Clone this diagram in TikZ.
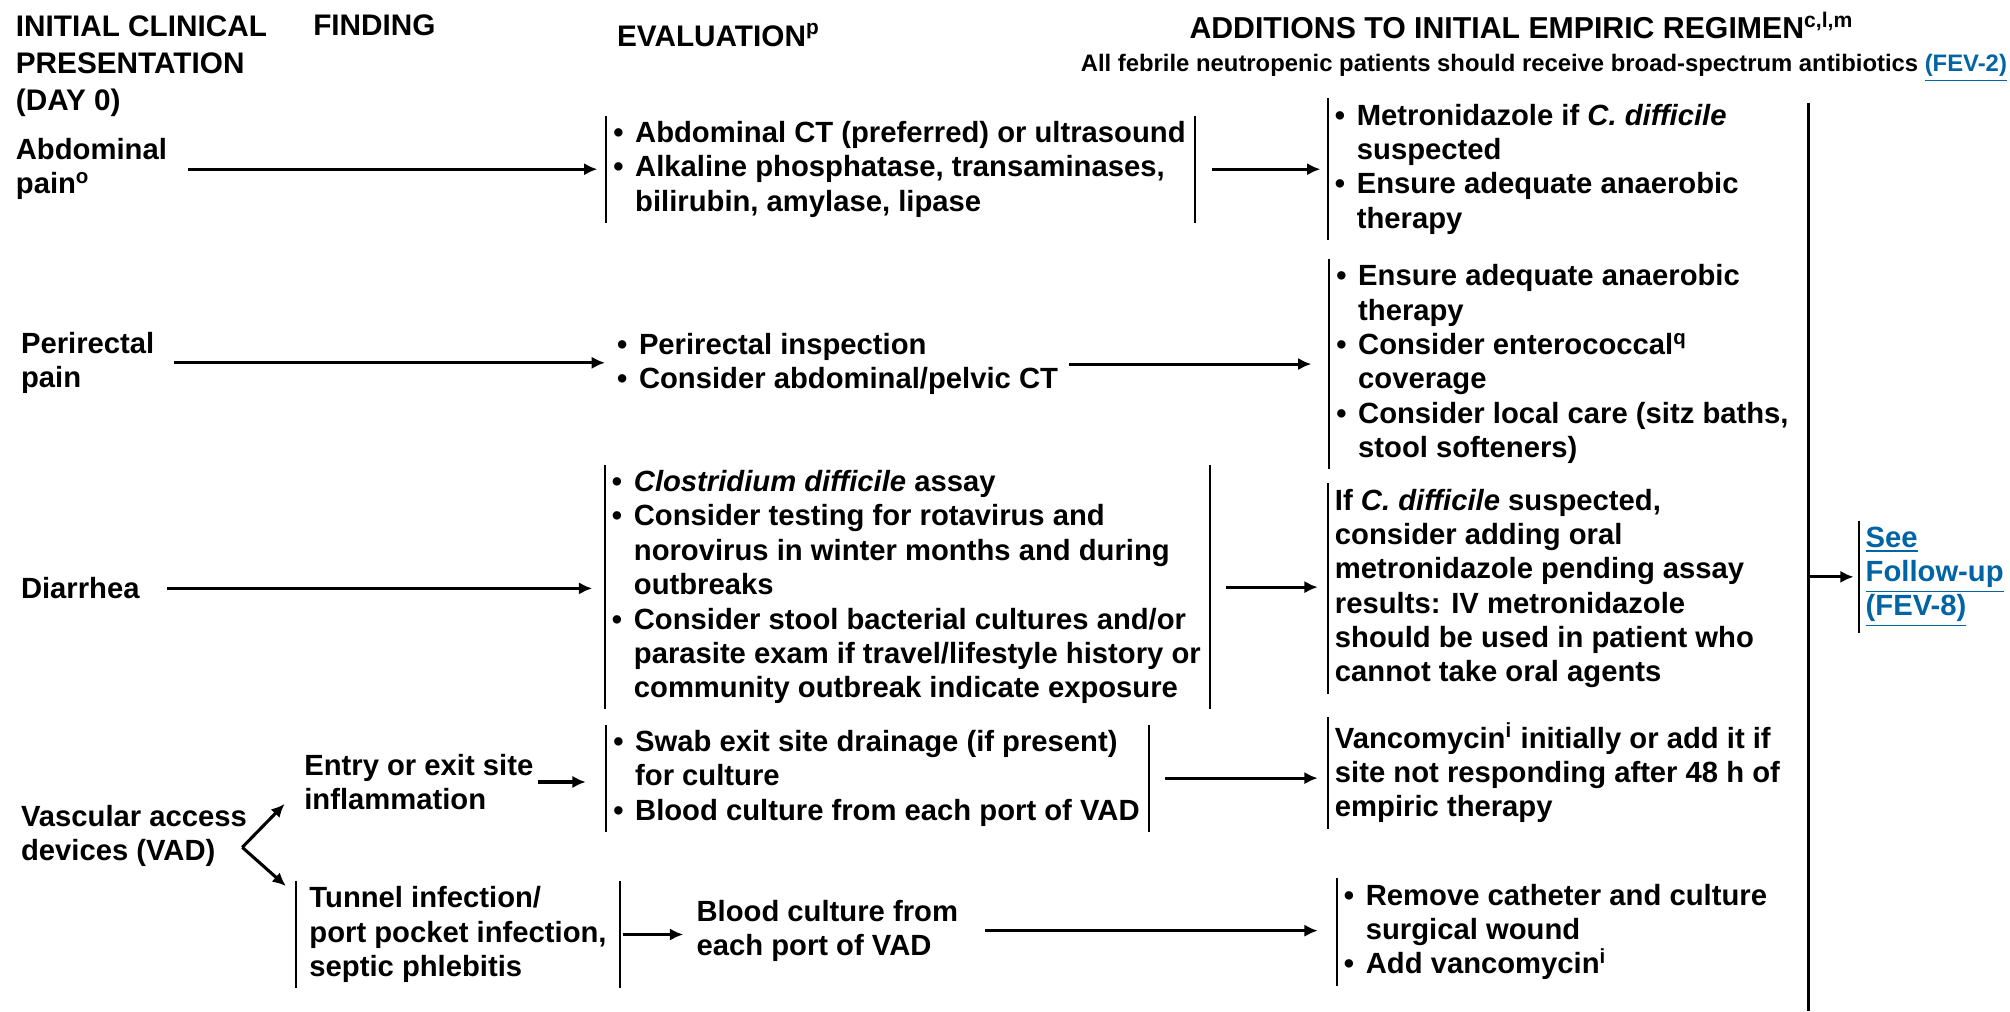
\documentclass[tikz,border=0pt]{standalone}
\usepackage{fontspec}
\setmainfont{Liberation Sans}
\usetikzlibrary{arrows.meta}
\definecolor{linkblue}{RGB}{0,100,165}
\newcommand{\bul}{\makebox[0.75em][l]{\textbullet}}
\newcommand{\ind}{\hspace*{0.75em}}
\newcommand{\sups}[1]{\textsuperscript{#1}}
\newcommand{\lnk}[1]{\textcolor{linkblue}{\underline{#1}}}
\tikzset{
  txt/.style={font=\bfseries\fontsize{11.4}{13.4}\selectfont, align=left, inner sep=0pt},
  box/.style={txt, inner xsep=2.5pt, inner ysep=2pt},
  head/.style={txt, font=\bfseries\fontsize{11.6}{14.4}\selectfont},
  bar/.style={line width=0.75pt},
  arr/.style={-{Latex[length=5.2pt,width=4.8pt]}, line width=1.2pt},
}
\begin{document}
\begin{tikzpicture}[x=0.5pt,y=-0.5pt]
\useasboundingbox (0,0) rectangle (1568,789);

% column heads
\node[head, anchor=north west] (hclin) at (12,12) {INITIAL CLINICAL\\PRESENTATION\\(DAY 0)};
\node[head, anchor=base west] (hfind) at (244,28) {FINDING};
\node[head, anchor=base west] (heval) at (481,36) {EVALUATION\sups{p}};
\node[head, anchor=base, font=\bfseries\fontsize{11.8}{14}\selectfont] (hadd) at (1187,30) {ADDITIONS TO INITIAL EMPIRIC REGIMEN\sups{c,l,m}};
\node[txt, anchor=base east, font=\bfseries\fontsize{9.3}{11}\selectfont] (hnote) at (1566,56) {All febrile neutropenic patients should receive broad-spectrum antibiotics \lnk{(FEV-2)}};

% abdominal pain
\node[txt, anchor=west] (abd) at (12,132) {Abdominal\\pain\sups{o}};
\node[box, anchor=west] (abdeval) at (473,132) {\bul Abdominal CT (preferred) or ultrasound\\\bul Alkaline phosphatase, transaminases,\\\ind bilirubin, amylase, lipase};
\node[box, anchor=west] (abdadd) at (1036,132) {\bul Metronidazole if \textit{C. difficile}\\\ind suspected\\\bul Ensure adequate anaerobic\\\ind therapy};

% perirectal pain
\node[txt, anchor=west] (peri) at (16,283) {Perirectal\\pain};
\node[txt, anchor=west] (perieval) at (481,284) {\bul Perirectal inspection\\\bul Consider abdominal/pelvic CT};
\node[box, anchor=west] (periadd) at (1037,284) {\bul Ensure adequate anaerobic\\\ind therapy\\\bul Consider enterococcal\sups{q}\\\ind coverage\\\bul Consider local care (sitz baths,\\\ind stool softeners)};

% diarrhea
\node[txt, anchor=west] (diar) at (16,459) {Diarrhea};
\node[box, anchor=west] (diareval) at (472,458) {\bul \textit{Clostridium difficile} assay\\\bul Consider testing for rotavirus and\\\ind norovirus in winter months and during\\\ind outbreaks\\\bul Consider stool bacterial cultures and/or\\\ind parasite exam if travel/lifestyle history or\\\ind community outbreak indicate exposure};
\node[box, anchor=west] (diaradd) at (1036,459) {If \textit{C. difficile} suspected,\\consider adding oral\\metronidazole pending assay\\results: IV metronidazole\\should be used in patient who\\cannot take oral agents};
\node[box, anchor=west, text=linkblue] (follow) at (1450,450) {\underline{See}\\\underline{Follow-up}\\\underline{(FEV-8)}};

% vascular access devices
\node[txt, anchor=west] (vad) at (16,652) {Vascular access\\devices (VAD)};
\node[txt, anchor=west] (site) at (237,610) {Entry or exit site\\inflammation};
\node[box, anchor=west] (siteeval) at (473,607) {\bul Swab exit site drainage (if present)\\\ind for culture\\\bul Blood culture from each port of VAD};
\node[box, anchor=west] (siteadd) at (1036,603) {Vancomycin\sups{i} initially or add it if\\site not responding after 48 h of\\empiric therapy};
\node[box, anchor=west, inner xsep=5pt] (tunnel) at (231,729) {Tunnel infection/\\port pocket infection,\\septic phlebitis};
\node[txt, anchor=west] (tunneleval) at (543,726) {Blood culture from\\each port of VAD};
\node[box, anchor=west] (tunneladd) at (1043,727) {\bul Remove catheter and culture\\\ind surgical wound\\\bul Add vancomycin\sups{i}};
\coordinate (fork) at (189,661);

% bars
\draw[bar] (abdeval.north west) -- (abdeval.south west);
\draw[bar] ([xshift=1pt]abdeval.north east) -- ([xshift=1pt]abdeval.south east);
\draw[bar] (abdadd.north west) -- (abdadd.south west);
\draw[bar] (periadd.north west) -- (periadd.south west);
\draw[bar] (diareval.north west) -- (diareval.south west);
\draw[bar] ([xshift=1pt]diareval.north east) -- ([xshift=1pt]diareval.south east);
\draw[bar] (diaradd.north west) -- (diaradd.south west);
\draw[bar] (follow.north west) -- (follow.south west);
\draw[bar] (siteeval.north west) -- (siteeval.south west);
\draw[bar] ([xshift=1pt]siteeval.north east) -- ([xshift=1pt]siteeval.south east);
\draw[bar] (siteadd.north west) -- (siteadd.south west);
\draw[bar] (tunnel.north west) -- (tunnel.south west);
\draw[bar] (tunnel.north east) -- (tunnel.south east);
\draw[bar] (tunneladd.north west) -- (tunneladd.south west);

% collector
\coordinate (coltop) at (1411,80);
\coordinate (colbot) at (1411,789);
\draw[line width=1pt] (coltop) -- (colbot);

% arrows
\draw[arr, shorten <=8pt, shorten >=3.5pt] (abd.east) -- (abd.east -| abdeval.west);
\draw[arr, shorten <=7.5pt, shorten >=3pt] (abdeval.east) -- (abdeval.east -| abdadd.west);
\draw[arr, shorten <=7.5pt, shorten >=4.5pt] (peri.east) -- (peri.east -| perieval.west);
\draw[arr, shorten <=4pt, shorten >=7pt] (perieval.east) -- (perieval.east -| periadd.west);
\draw[arr, shorten <=10.5pt, shorten >=5pt] (diar.east) -- (diar.east -| diareval.west);
\draw[arr, shorten <=7pt, shorten >=4pt] (diareval.east) -- (diareval.east -| diaradd.west);
\draw[arr, shorten >=2pt] (coltop |- follow.west) -- (follow.west);
\draw[arr] (fork) -- ([shift={(-15,-5)}]site.south west);
\draw[arr] (fork) -- ([shift={(-8,4)}]tunnel.north west);
\draw[arr, shorten <=1.5pt, shorten >=8pt] (site.east) -- (site.east -| siteeval.west);
\draw[arr, shorten <=7pt, shorten >=4pt] (siteeval.east) -- (siteeval.east -| siteadd.west);
\draw[arr, shorten <=1pt, shorten >=5pt] (tunnel.east) -- (tunnel.east -| tunneleval.west);
\draw[arr, shorten <=10.5pt, shorten >=7.5pt] (tunneleval.east) -- (tunneleval.east -| tunneladd.west);
\end{tikzpicture}
\end{document}
